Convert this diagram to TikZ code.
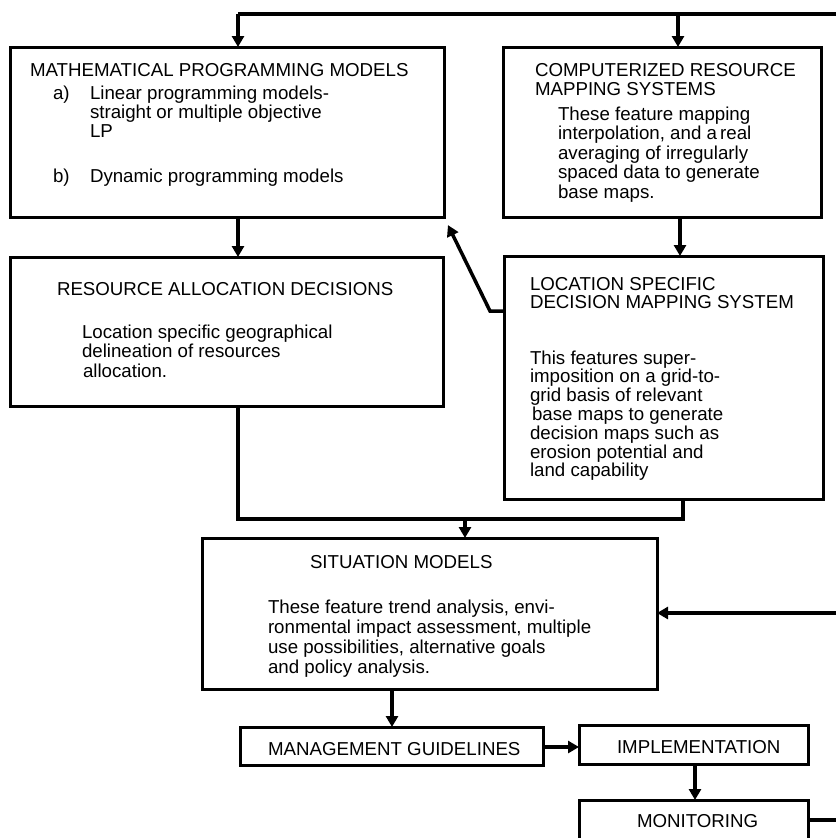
\documentclass[tikz,border=0pt]{standalone}
\usepackage{fontspec}
\setmainfont{Liberation Sans}
\usetikzlibrary{arrows.meta,calc}
\tikzset{
  box/.style={draw=black, line width=3pt, inner sep=0pt, outer sep=0pt, anchor=north west},
  conn/.style={draw=black, line width=3.5pt},
  arr/.style={conn, -{Triangle[width=12pt,length=11pt]}},
  txt/.style={inner sep=0pt, outer sep=0pt, anchor=base west, font=\fontsize{18.7}{19.5}\selectfont},
}
\newcommand{\lines}[2]{\parbox[t]{400pt}{\fontsize{18.7}{#1}\selectfont #2}}
\begin{document}
\begin{tikzpicture}[x=1pt,y=-1pt]
\useasboundingbox (0,0) rectangle (836,838);
\fill[white] (0,0) rectangle (836,838);
\clip (0,0) rectangle (836,838);
% boxes
\node[box, minimum width=434pt, minimum height=170pt] (mpm) at (10,47) {};
\node[box, minimum width=318pt, minimum height=170pt] (crm) at (503,47) {};
\node[box, minimum width=433pt, minimum height=149pt] (rad) at (10,257) {};
\node[box, minimum width=319pt, minimum height=243pt] (lsd) at (504,256) {};
\node[box, minimum width=455pt, minimum height=151pt] (sm) at (202,538) {};
\node[box, minimum width=303pt, minimum height=38pt] (mg) at (240,727) {};
\node[box, minimum width=229pt, minimum height=39pt] (impl) at (579,725) {};
\node[box, minimum width=229pt, minimum height=60pt] (mon) at (579,800) {};
% texts
\node[txt] (t1) at (30,76) {MATHEMATICAL PROGRAMMING MODELS};
\node[txt] (t2) at (53,99) {a)};
\node[txt] (t3) at (90,99) {\lines{19}{Linear programming models-\\straight or multiple objective\\LP}};
\node[txt] (t4) at (53,182) {b)};
\node[txt] (t5) at (90,182) {Dynamic programming models};
\node[txt] (t6) at (535,76) {\lines{19}{COMPUTERIZED RESOURCE\\MAPPING SYSTEMS}};
\node[txt] (t7) at (558,120) {\lines{19.5}{These feature mapping\\interpolation, and a\,real\\averaging of irregularly\\spaced data to generate\\base maps.}};
\node[txt] (t8) at (57,295) {RESOURCE ALLOCATION DECISIONS};
\node[txt] (t9) at (82,338) {\lines{19.5}{Location specific geographical\\delineation of resources\\\hspace*{1pt}allocation.}};
\node[txt] (t10) at (530,290) {\lines{18.5}{LOCATION SPECIFIC\\DECISION MAPPING SYSTEM}};
\node[txt] (t11) at (530,364) {\lines{18.8}{This features super-\\imposition on a grid-to-\\grid basis of relevant\\\hspace*{2pt}base maps to generate\\decision maps such as\\erosion potential and\\land capability}};
\node[txt] (t12) at (310,568) {SITUATION MODELS};
\node[txt] (t13) at (268,613) {\lines{20.2}{These feature trend analysis, envi-\\ronmental impact assessment, multiple\\use possibilities, alternative goals\\and policy analysis.}};
\node[txt] (t14) at (268,755) {MANAGEMENT GUIDELINES};
\node[txt] (t15) at (617,753) {IMPLEMENTATION};
\node[txt] (t16) at (637,827) {MONITORING};
% coordinates
\coordinate (tr) at (836,14);
\coordinate (tl) at (238,14);
\coordinate (tc) at (678,14);
\coordinate (x680) at (680,0);
\coordinate (dj) at (490,311);
\coordinate (m1) at (238,519);
\coordinate (m2) at (683,519);
\coordinate (m3) at (465,519);
\coordinate (fb) at (836,613);
\coordinate (x392) at (392,0);
\coordinate (y747) at (0,747);
\coordinate (x695) at (695,0);
\coordinate (mr) at (836,820);
% connectors
\draw[conn] (tr) -- (tl);
\draw[arr] (tl) -- (mpm.north -| tl);
\draw[arr] (tc) -- (crm.north -| tc);
\draw[arr] (mpm.south -| tl) -- (rad.north -| tl);
\draw[arr] (crm.south -| x680) -- (lsd.north -| x680);
\draw[arr, shorten >=9pt] (lsd.west |- dj) -- (dj) -- (mpm.south east);
\draw[conn] (rad.south -| m1) -- (m1) -- (m2) -- (lsd.south -| m2);
\draw[arr] (m3) -- (sm.north -| m3);
\draw[arr] (fb) -- (sm.east |- fb);
\draw[arr] (sm.south -| x392) -- (mg.north -| x392);
\draw[arr] (mg.east |- y747) -- (impl.west |- y747);
\draw[arr] (impl.south -| x695) -- (mon.north -| x695);
\draw[conn] (mon.east |- mr) -- (mr);
\end{tikzpicture}
\end{document}
